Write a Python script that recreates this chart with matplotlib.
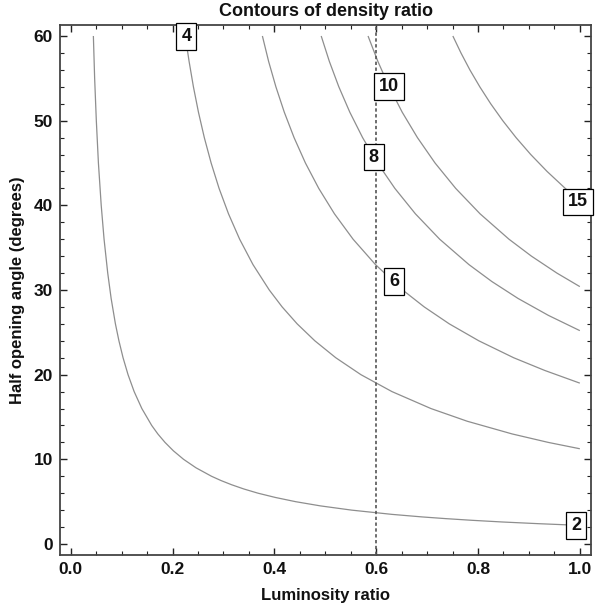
import matplotlib
matplotlib.use("Agg")
import matplotlib.pyplot as plt
from matplotlib.ticker import MultipleLocator

plt.rcParams['font.family'] = ['Liberation Sans', 'DejaVu Sans']

# Contour lines (luminosity ratio, half opening angle in degrees)
levels = ["2", "4", "6", "8", "10", "15"]
lum_2 = [0.0445, 0.0470, 0.0503, 0.0544, 0.0599, 0.0655, 0.0727, 0.0794, 0.0878, 0.0947,
         0.1028, 0.1126, 0.1246, 0.1397, 0.1591, 0.1711, 0.1852, 0.2018, 0.2217, 0.2461,
         0.2766, 0.2950, 0.316, 0.340, 0.368, 0.4018, 0.4417, 0.4907, 0.552, 0.631,
         0.690, 0.736, 0.788, 0.848, 0.919, 1.0]
ang_2 = [60, 55, 50, 45, 40, 36, 32, 29, 26, 24,
         22, 20, 18, 16, 14, 13, 12, 11, 10, 9,
         8, 7.5, 7, 6.5, 6, 5.5, 5, 4.5, 4, 3.5,
         3.2, 3, 2.8, 2.6, 2.4, 2.2]
lum_4 = [0.225, 0.2325, 0.241, 0.2509, 0.2624, 0.2758, 0.2914, 0.3099, 0.3318, 0.358, 0.39,
         0.4153, 0.4448, 0.4795, 0.5206, 0.570, 0.631, 0.7075, 0.7788, 0.867, 0.938, 1.0]
ang_4 = [60, 57, 54, 51, 48, 45, 42, 39, 36, 33, 30,
         28, 26, 24, 22, 20, 18, 16, 14.5, 13, 12, 11.25]
lum_6 = [0.3765, 0.3887, 0.403, 0.4195, 0.4387, 0.461, 0.4872, 0.518, 0.5546, 0.5986, 0.652,
         0.6944, 0.7436, 0.8016, 0.870, 0.931, 1.0]
ang_6 = [60, 57, 54, 51, 48, 45, 42, 39, 36, 33, 30,
         28, 26, 24, 22, 20.5, 19]
lum_8 = [0.492, 0.508, 0.5266, 0.5482, 0.5733, 0.6025, 0.6367, 0.677, 0.7247, 0.7822,
         0.8272, 0.8787, 0.9383, 1.0]
ang_8 = [60, 57, 54, 51, 48, 45, 42, 39, 36, 33, 31, 29, 27, 25.2]
lum_10 = [0.584, 0.6033, 0.6255, 0.6511, 0.681, 0.7156, 0.7562, 0.804, 0.8608, 0.9049,
          0.9549, 1.0]
ang_10 = [60, 57, 54, 51, 48, 45, 42, 39, 36, 34, 32, 30.4]
lum_15 = [0.7506, 0.7665, 0.784, 0.8035, 0.8249, 0.8486, 0.8747, 0.9036, 0.9357, 0.9714, 1.0]
ang_15 = [60, 58, 56, 54, 52, 50, 48, 46, 44, 42, 40.5]

curves = [(lum_2, ang_2), (lum_4, ang_4), (lum_6, ang_6),
          (lum_8, ang_8), (lum_10, ang_10), (lum_15, ang_15)]
# label anchor points on each curve
label_lum = [0.9925, 0.227, 0.635, 0.595, 0.6255, 0.997]
label_ang = [2.15, 59.95, 30.97, 45.7, 54.0, 40.4]

marker_lum = 0.6

fig = plt.figure(figsize=(6.10, 6.12), dpi=100)
ax = fig.add_axes([0.0984, 0.0927, 0.8705, 0.8669])

for (lx, ly) in curves:
    ax.plot(lx, ly, color='#8e8e8e', lw=0.9, zorder=2,
            solid_joinstyle='round', solid_capstyle='butt')

ax.axvline(marker_lum, color='#555555', lw=1.2, ls=(0, (2, 1.5)), zorder=3)

for t, lx, ly in zip(levels, label_lum, label_ang):
    ax.text(lx, ly, t, ha='center', va='center', fontsize=13, fontweight='bold',
            color='#111111', zorder=5,
            bbox=dict(boxstyle='square,pad=0.27', fc='white', ec='black', lw=0.9))

ax.set_xlim(-0.021, 1.022)
ax.set_ylim(-1.33, 61.33)
ax.xaxis.set_major_locator(MultipleLocator(0.2))
ax.xaxis.set_minor_locator(MultipleLocator(0.05))
ax.yaxis.set_major_locator(MultipleLocator(10))
ax.yaxis.set_minor_locator(MultipleLocator(2))
ax.xaxis.set_major_formatter(plt.FuncFormatter(lambda v, p: f"{v:.1f}"))
ax.yaxis.set_major_formatter(plt.FuncFormatter(lambda v, p: f"{v:.0f}"))

for s in ax.spines.values():
    s.set_color('#444444')
    s.set_linewidth(1.3)

ax.tick_params(which='both', direction='in', top=True, right=True, color='#222222')
ax.tick_params(which='major', length=5, width=1.0, labelsize=12.5, pad=5)
ax.tick_params(which='minor', length=2.8, width=0.8)
for lab in ax.get_xticklabels() + ax.get_yticklabels():
    lab.set_fontweight('bold')
    lab.set_color('#111111')

ax.set_xlabel('Luminosity ratio', fontsize=12, fontweight='bold', color='#111111', labelpad=8)
ax.set_ylabel('Half opening angle (degrees)', fontsize=12, fontweight='bold', color='#111111', labelpad=6)
ax.set_title('Contours of density ratio', fontsize=13, fontweight='bold', color='#111111', pad=6)

fig.savefig('out.png', dpi=100)
